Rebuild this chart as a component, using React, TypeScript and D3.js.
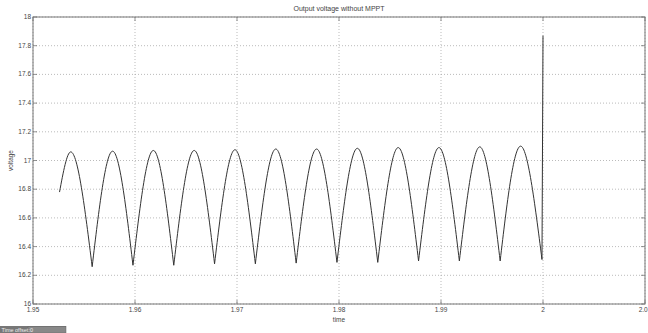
import { scaleLinear, line as d3_line, curveNatural, curveLinear, curveMonotoneX } from "d3";

const title = "Output voltage without MPPT";
const xLabel = "time";
const yLabel = "voltage";

const xTicks = [1.95, 1.96, 1.97, 1.98, 1.99, 2, 2.01];
const xTickLabels = ["1.95", "1.96", "1.97", "1.98", "1.99", "2", "2.01"];
const yTicks = [16, 16.2, 16.4, 16.6, 16.8, 17, 17.2, 17.4, 17.6, 17.8, 18];
const yTickLabels = ["16", "16.2", "16.4", "16.6", "16.8", "17", "17.2", "17.4", "17.6", "17.8", "18"];

// trace starts mid-rise
const startTime = 1.9526;
const startValue = 16.78;

// each peak comes just before the dip with the same index
const peakTimes = [1.9537, 1.9578, 1.9618, 1.9658, 1.9698, 1.9738, 1.9778, 1.9818, 1.9858, 1.9898, 1.9938, 1.9978];
const peakValues = [17.06, 17.065, 17.07, 17.07, 17.075, 17.08, 17.08, 17.085, 17.09, 17.09, 17.095, 17.1];
const dipTimes = [1.9558, 1.9598, 1.9638, 1.9678, 1.9718, 1.9758, 1.9798, 1.9838, 1.9878, 1.9918, 1.9958, 1.9999];
const dipValues = [16.26, 16.27, 16.27, 16.28, 16.28, 16.285, 16.29, 16.29, 16.3, 16.3, 16.3, 16.31];

// jump at t = 2
const spikeTime = 2;
const spikeValue = 17.87;

const W = 648;
const H = 333;
const margin = { top: 17, right: 3, bottom: 29, left: 33 };

type Pt = [number, number];

export default function App() {
  const x = scaleLinear().domain([1.95, 2.01]).range([margin.left, W - margin.right]);
  const y = scaleLinear().domain([16, 18]).range([H - margin.bottom, margin.top]);

  const hump = d3_line<Pt>()
    .x((d) => x(d[0]))
    .y((d) => y(d[1]))
    .curve(curveNatural);
  // first partial hump is lopsided, monotone keeps it from overshooting the peak
  const firstHump = d3_line<Pt>()
    .x((d) => x(d[0]))
    .y((d) => y(d[1]))
    .curve(curveMonotoneX);
  const straight = d3_line<Pt>()
    .x((d) => x(d[0]))
    .y((d) => y(d[1]))
    .curve(curveLinear);

  const paths: string[] = [];
  let prev: Pt = [startTime, startValue];
  dipTimes.forEach((t, i) => {
    const seg: Pt[] = [prev, [peakTimes[i], peakValues[i]], [t, dipValues[i]]];
    paths.push((i === 0 ? firstHump(seg) : hump(seg)) || "");
    prev = [t, dipValues[i]];
  });
  paths.push(straight([prev, [spikeTime, spikeValue]]) || "");

  const x0 = margin.left;
  const x1 = W - margin.right;
  const y0 = margin.top;
  const y1 = H - margin.bottom;
  const font = "'Liberation Sans', Arial, sans-serif";
  const textColor = "#444";

  return (
    <div style={{ position: "fixed", left: 0, top: 0 }}>
      <svg width={W} height={H} style={{ display: "block", background: "#fff" }}>
        {/* grid */}
        {xTicks.map((t, i) => (
          <line key={"gx" + i} x1={x(t)} x2={x(t)} y1={y0} y2={y1} stroke="#aaa" strokeWidth={0.8} strokeDasharray="1,2" />
        ))}
        {yTicks.map((t, i) => (
          <line key={"gy" + i} x1={x0} x2={x1} y1={y(t)} y2={y(t)} stroke="#aaa" strokeWidth={0.8} strokeDasharray="1,2" />
        ))}

        {/* ticks on all four sides, pointing in */}
        {xTicks.map((t, i) => (
          <g key={"tx" + i} stroke="#777" strokeWidth={0.8}>
            <line x1={x(t)} x2={x(t)} y1={y1} y2={y1 - 4} />
            <line x1={x(t)} x2={x(t)} y1={y0} y2={y0 + 4} />
          </g>
        ))}
        {yTicks.map((t, i) => (
          <g key={"ty" + i} stroke="#777" strokeWidth={0.8}>
            <line x1={x0} x2={x0 + 4} y1={y(t)} y2={y(t)} />
            <line x1={x1} x2={x1 - 4} y1={y(t)} y2={y(t)} />
          </g>
        ))}

        {/* trace */}
        <path d={paths.join("")} fill="none" stroke="#333" strokeWidth={1} strokeLinejoin="round" />

        {/* box */}
        <rect x={x0} y={y0} width={x1 - x0} height={y1 - y0} fill="none" stroke="#777" strokeWidth={1} />

        {/* tick labels */}
        {yTicks.map((t, i) => (
          <text key={"ly" + i} x={x0 - 2} y={y(t) + 2} textAnchor="end" fontSize={6.5} fontFamily={font} fill={textColor}>
            {yTickLabels[i]}
          </text>
        ))}
        {xTicks.map((t, i) => (
          <text key={"lx" + i} x={x(t)} y={y1 + 8} textAnchor="middle" fontSize={6.5} fontFamily={font} fill={textColor}>
            {xTickLabels[i]}
          </text>
        ))}

        {/* title and axis names */}
        <text x={(x0 + x1) / 2} y={11} textAnchor="middle" fontSize={7} fontFamily={font} fill={textColor}>
          {title}
        </text>
        <text x={(x0 + x1) / 2} y={y1 + 18} textAnchor="middle" fontSize={6.5} fontFamily={font} fill={textColor}>
          {xLabel}
        </text>
        <text
          transform={`translate(13,${(y0 + y1) / 2}) rotate(-90)`}
          textAnchor="middle"
          fontSize={6.5}
          fontFamily={font}
          fill={textColor}
        >
          {yLabel}
        </text>

        {/* time offset bar */}
        <rect x={0} y={326} width={66} height={7} fill="#777" />
        <rect x={28} y={326.5} width={38} height={6.5} fill="#888" stroke="#666" strokeWidth={0.5} />
        <text x={1.5} y={331.5} fontSize={5.5} fontFamily={font} fill="#eee">
          Time offset:
        </text>
        <text x={30} y={331.5} fontSize={5.5} fontFamily={font} fill="#eee">
          0
        </text>
      </svg>
    </div>
  );
}
